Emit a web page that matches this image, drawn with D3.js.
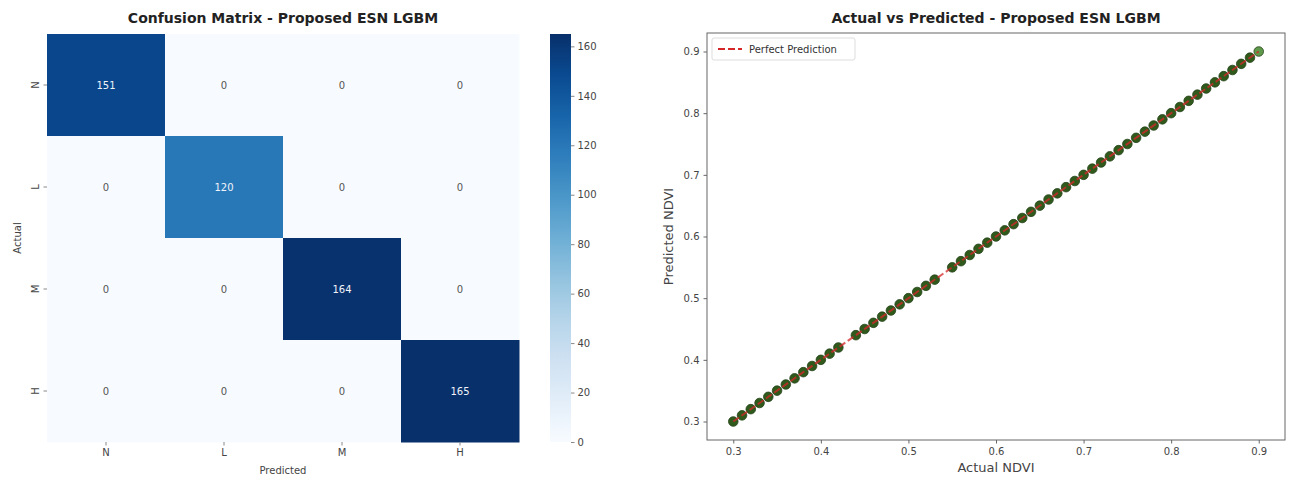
<!DOCTYPE html>
<html>
<head>
<meta charset="utf-8">
<script src="https://cdn.jsdelivr.net/npm/d3@7"></script>
<style>
  body { margin: 0; background: #fff; }
  svg text { font-family: "DejaVu Sans", sans-serif; }
</style>
</head>
<body>
<svg id="chart" width="1290" height="477"></svg>
<script>
// confusion matrix data
const classes = ["N", "L", "M", "H"];
const matrix = [
  [151, 0, 0, 0],
  [0, 120, 0, 0],
  [0, 0, 164, 0],
  [0, 0, 0, 165]
];
const cbarTicks = [0, 20, 40, 60, 80, 100, 120, 140, 160];

// actual vs predicted data (gaps at 0.43 and 0.54)
const actualNdvi = [0.30,0.31,0.32,0.33,0.34,0.35,0.36,0.37,0.38,0.39,0.40,0.41,0.42,
  0.44,0.45,0.46,0.47,0.48,0.49,0.50,0.51,0.52,0.53,
  0.55,0.56,0.57,0.58,0.59,0.60,0.61,0.62,0.63,0.64,0.65,0.66,0.67,0.68,0.69,0.70,
  0.71,0.72,0.73,0.74,0.75,0.76,0.77,0.78,0.79,0.80,0.81,0.82,0.83,0.84,0.85,0.86,
  0.87,0.88,0.89,0.90];
const predictedNdvi = actualNdvi.slice();
const ndviTicks = [0.3, 0.4, 0.5, 0.6, 0.7, 0.8, 0.9];

const svg = d3.select("#chart");

// ---------- left: heatmap ----------
const hm = { left: 47, top: 34, width: 472, height: 408 };
const color = d3.scaleSequential(d3.interpolateBlues).domain([0, 165]);
const xb = d3.scaleBand().domain(classes).range([hm.left, hm.left + hm.width]);
const yb = d3.scaleBand().domain(classes).range([hm.top, hm.top + hm.height]);

const cells = [];
matrix.forEach((row, i) => row.forEach((v, j) => cells.push({ r: classes[i], c: classes[j], v })));

svg.append("g").selectAll("rect").data(cells).enter().append("rect")
  .attr("x", d => xb(d.c)).attr("y", d => yb(d.r))
  .attr("width", xb.bandwidth() + 0.5).attr("height", yb.bandwidth() + 0.5)
  .attr("fill", d => color(d.v));

svg.append("g").selectAll("text").data(cells).enter().append("text")
  .attr("x", d => xb(d.c) + xb.bandwidth() / 2)
  .attr("y", d => yb(d.r) + yb.bandwidth() / 2)
  .attr("text-anchor", "middle").attr("dominant-baseline", "central")
  .attr("font-size", 10)
  .attr("fill", d => d.v > 80 ? "#f0f4fa" : "#555")
  .text(d => d.v);

const hx = svg.append("g").attr("transform", `translate(0,${hm.top + hm.height})`)
  .call(d3.axisBottom(xb).tickSize(3.5).tickPadding(3));
hx.select(".domain").remove();
hx.selectAll("line").attr("stroke", "#888");
hx.selectAll("text").attr("font-size", 10).attr("fill", "#444");

const hy = svg.append("g").attr("transform", `translate(${hm.left},0)`)
  .call(d3.axisLeft(yb).tickSize(3.5).tickPadding(3));
hy.select(".domain").remove();
hy.selectAll("line").attr("stroke", "#888");
hy.selectAll("text").attr("font-size", 10).attr("fill", "#444")
  .attr("text-anchor", "middle").attr("dy", 0).attr("x", -12)
  .attr("transform", function () {
    return "rotate(-90," + (-12) + ",0)";
  })
  .attr("dominant-baseline", "central");

svg.append("text").attr("x", hm.left + hm.width / 2).attr("y", 474)
  .attr("text-anchor", "middle").attr("font-size", 10).attr("fill", "#444").text("Predicted");
svg.append("text").attr("transform", `translate(21,${hm.top + hm.height / 2}) rotate(-90)`)
  .attr("text-anchor", "middle").attr("font-size", 10).attr("fill", "#444").text("Actual");
svg.append("text").attr("x", hm.left + hm.width / 2).attr("y", 23)
  .attr("text-anchor", "middle").attr("font-size", 14).attr("font-weight", "bold")
  .attr("fill", "#222").text("Confusion Matrix - Proposed ESN LGBM");

// colorbar
const cb = { left: 550, width: 21 };
const cbScale = d3.scaleLinear().domain([0, 165]).range([hm.top + hm.height, hm.top]);
const defs = svg.append("defs");
const grad = defs.append("linearGradient").attr("id", "cbGrad")
  .attr("x1", "0%").attr("y1", "100%").attr("x2", "0%").attr("y2", "0%");
d3.range(0, 1.0001, 0.1).forEach(t => {
  grad.append("stop").attr("offset", (t * 100) + "%").attr("stop-color", color(t * 165));
});
svg.append("rect").attr("x", cb.left).attr("y", hm.top)
  .attr("width", cb.width).attr("height", hm.height).attr("fill", "url(#cbGrad)");
const cax = svg.append("g").attr("transform", `translate(${cb.left + cb.width},0)`)
  .call(d3.axisRight(cbScale).tickValues(cbarTicks).tickSize(3.5).tickPadding(3));
cax.select(".domain").remove();
cax.selectAll("line").attr("stroke", "#888");
cax.selectAll("text").attr("font-size", 10).attr("fill", "#444");

// ---------- right: scatter ----------
const sp = { left: 707, top: 33, right: 1285, bottom: 440 };
const xs = d3.scaleLinear().domain([0.27, 0.93]).range([sp.left, sp.right]);
const ys = d3.scaleLinear().domain([0.27, 0.93]).range([sp.bottom, sp.top]);

svg.append("text").attr("x", (sp.left + sp.right) / 2).attr("y", 23)
  .attr("text-anchor", "middle").attr("font-size", 14).attr("font-weight", "bold")
  .attr("fill", "#222").text("Actual vs Predicted - Proposed ESN LGBM");

const pts = actualNdvi.map((a, i) => ({ a, p: predictedNdvi[i] }));
svg.append("g").selectAll("circle").data(pts).enter().append("circle")
  .attr("cx", d => xs(d.a)).attr("cy", d => ys(d.p)).attr("r", 4.8)
  .attr("fill", (d, i) => i === pts.length - 1 ? "#5f9a4a" : "#2f5a1c")
  .attr("stroke", "#26421a").attr("stroke-width", 0.8);

svg.append("line")
  .attr("x1", xs(0.3)).attr("y1", ys(0.3)).attr("x2", xs(0.9)).attr("y2", ys(0.9))
  .attr("stroke", "#d62728").attr("stroke-width", 2).attr("stroke-dasharray", "7,3")
  .attr("opacity", 0.75);

svg.append("rect").attr("x", sp.left).attr("y", sp.top)
  .attr("width", sp.right - sp.left).attr("height", sp.bottom - sp.top)
  .attr("fill", "none").attr("stroke", "#666").attr("stroke-width", 1);

const sx = svg.append("g").attr("transform", `translate(0,${sp.bottom})`)
  .call(d3.axisBottom(xs).tickValues(ndviTicks).tickFormat(d3.format(".1f")).tickSize(3.5).tickPadding(4));
sx.select(".domain").remove();
sx.selectAll("line").attr("stroke", "#666");
sx.selectAll("text").attr("font-size", 10).attr("fill", "#444");

const sy = svg.append("g").attr("transform", `translate(${sp.left},0)`)
  .call(d3.axisLeft(ys).tickValues(ndviTicks).tickFormat(d3.format(".1f")).tickSize(3.5).tickPadding(4));
sy.select(".domain").remove();
sy.selectAll("line").attr("stroke", "#666");
sy.selectAll("text").attr("font-size", 10).attr("fill", "#444");

svg.append("text").attr("x", (sp.left + sp.right) / 2).attr("y", 472)
  .attr("text-anchor", "middle").attr("font-size", 13).attr("fill", "#444").text("Actual NDVI");
svg.append("text").attr("transform", `translate(673,${(sp.top + sp.bottom) / 2}) rotate(-90)`)
  .attr("text-anchor", "middle").attr("font-size", 13).attr("fill", "#444").text("Predicted NDVI");

// legend
const lg = svg.append("g").attr("transform", `translate(${sp.left + 5},${sp.top + 5})`);
lg.append("rect").attr("width", 143).attr("height", 22).attr("rx", 2)
  .attr("fill", "#fff").attr("stroke", "#ddd");
lg.append("line").attr("x1", 6).attr("x2", 30).attr("y1", 11).attr("y2", 11)
  .attr("stroke", "#d62728").attr("stroke-width", 2).attr("stroke-dasharray", "7,3");
lg.append("text").attr("x", 37).attr("y", 11).attr("dominant-baseline", "central")
  .attr("font-size", 10).attr("fill", "#333").text("Perfect Prediction");
</script>
</body>
</html>
